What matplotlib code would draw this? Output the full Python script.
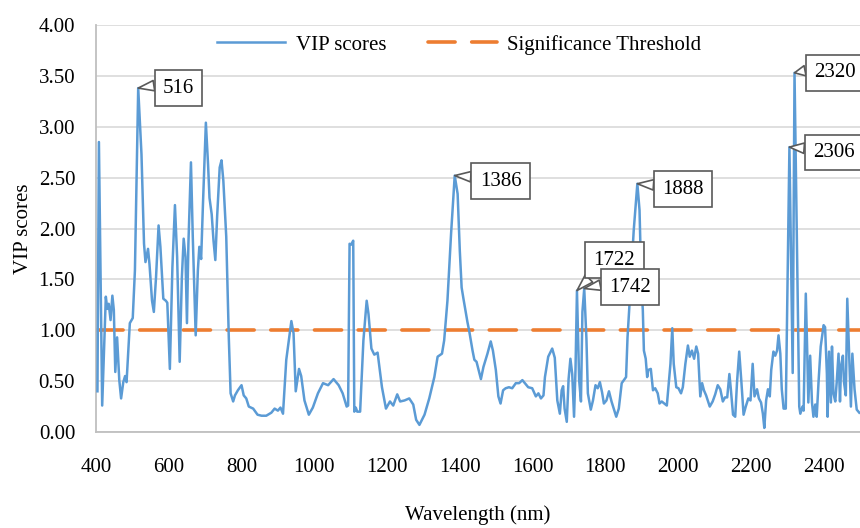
import matplotlib
matplotlib.use("Agg")
import matplotlib.pyplot as plt
from matplotlib.ticker import MultipleLocator, FormatStrFormatter

# wavelength (nm) and VIP scores
wavelength = [
    404, 408, 417, 427, 431, 435, 440, 445, 449, 453, 458, 464, 469, 475, 480, 484,
    493, 501, 507, 516, 525, 532, 536, 543, 547, 554, 559, 565, 572, 577, 585, 592,
    596, 603, 610, 617, 623, 630, 636, 641, 646, 650, 654, 661, 666, 674, 680, 684,
    689, 694, 702, 708, 712, 718, 723, 728, 733, 740, 745, 750, 758, 765, 770, 777,
    782, 790, 800, 806, 813, 820, 832, 844, 855, 868, 882, 891, 900, 907, 914, 923,
    937, 943, 949, 958, 964, 973, 985, 996, 1010, 1024, 1038, 1053, 1067, 1078, 1089, 1093,
    1097, 1101, 1107, 1110, 1114, 1118, 1126, 1135, 1144, 1149, 1157, 1165, 1174, 1186, 1197, 1208,
    1217, 1228, 1236, 1248, 1261, 1272, 1280, 1289, 1303, 1316, 1330, 1339, 1351, 1357, 1366, 1376,
    1386, 1394, 1400, 1405, 1410, 1421, 1426, 1435, 1440, 1446, 1453, 1458, 1465, 1476, 1485, 1491,
    1499, 1506, 1512, 1519, 1526, 1535, 1544, 1554, 1563, 1572, 1579, 1588, 1599, 1609, 1616, 1623,
    1630, 1634, 1643, 1654, 1661, 1668, 1675, 1680, 1684, 1688, 1694, 1699, 1704, 1709, 1714, 1718,
    1722, 1728, 1733, 1737, 1742, 1748, 1752, 1760, 1766, 1773, 1779, 1785, 1791, 1796, 1803, 1810,
    1817, 1823, 1830, 1837, 1845, 1851, 1857, 1861, 1867, 1878, 1888, 1894, 1899, 1903, 1906, 1911,
    1915, 1918, 1925, 1931, 1937, 1944, 1949, 1955, 1962, 1969, 1979, 1984, 1988, 1995, 2001, 2008,
    2013, 2020, 2027, 2032, 2038, 2044, 2050, 2055, 2061, 2066, 2071, 2077, 2087, 2095, 2102, 2109,
    2116, 2123, 2129, 2135, 2141, 2145, 2151, 2157, 2162, 2168, 2174, 2180, 2186, 2193, 2199, 2205,
    2210, 2217, 2222, 2228, 2233, 2237, 2242, 2247, 2252, 2256, 2262, 2267, 2272, 2276, 2281, 2285,
    2290, 2296, 2306, 2315, 2320, 2326, 2333, 2336, 2342, 2345, 2351, 2355, 2358, 2363, 2368, 2372,
    2377, 2381, 2386, 2392, 2400, 2404, 2409, 2411, 2415, 2420, 2423, 2427, 2432, 2436, 2441, 2445,
    2448, 2453, 2456, 2461, 2465, 2470, 2475, 2479, 2485, 2491, 2498,
]
vip = [
    0.40, 2.85, 0.26, 1.33, 1.21, 1.26, 1.10, 1.34, 1.20, 0.59, 0.93, 0.51, 0.33, 0.49, 0.55, 0.49,
    1.07, 1.12, 1.59, 3.38, 2.73, 1.85, 1.67, 1.80, 1.65, 1.29, 1.18, 1.52, 2.03, 1.82, 1.31, 1.29,
    1.27, 0.62, 1.62, 2.23, 1.72, 0.69, 1.52, 1.90, 1.72, 1.07, 1.85, 2.65, 1.92, 0.95, 1.59, 1.82,
    1.70, 2.24, 3.04, 2.63, 2.30, 2.14, 1.88, 1.69, 2.12, 2.60, 2.67, 2.47, 1.92, 0.93, 0.38, 0.30,
    0.36, 0.41, 0.46, 0.36, 0.33, 0.25, 0.23, 0.17, 0.16, 0.16, 0.19, 0.23, 0.21, 0.24, 0.18, 0.71,
    1.09, 0.97, 0.40, 0.62, 0.55, 0.31, 0.17, 0.24, 0.38, 0.48, 0.46, 0.52, 0.46, 0.38, 0.25, 0.26,
    1.85, 1.84, 1.88, 0.20, 0.24, 0.20, 0.20, 0.90, 1.29, 1.16, 0.82, 0.76, 0.78, 0.44, 0.23, 0.30,
    0.26, 0.37, 0.30, 0.31, 0.33, 0.27, 0.12, 0.07, 0.17, 0.33, 0.54, 0.74, 0.77, 0.90, 1.29, 1.95,
    2.52, 2.34, 1.78, 1.42, 1.31, 1.08, 0.99, 0.80, 0.71, 0.69, 0.59, 0.52, 0.64, 0.77, 0.89, 0.80,
    0.61, 0.35, 0.28, 0.41, 0.43, 0.44, 0.43, 0.48, 0.48, 0.51, 0.48, 0.44, 0.43, 0.35, 0.38, 0.33,
    0.36, 0.54, 0.74, 0.82, 0.73, 0.31, 0.18, 0.41, 0.45, 0.23, 0.10, 0.52, 0.72, 0.57, 0.15, 0.61,
    1.39, 0.51, 0.30, 1.18, 1.41, 0.92, 0.38, 0.22, 0.31, 0.46, 0.43, 0.49, 0.39, 0.28, 0.31, 0.40,
    0.30, 0.23, 0.15, 0.23, 0.48, 0.51, 0.54, 0.93, 1.29, 1.98, 2.44, 2.18, 1.46, 1.20, 0.80, 0.72,
    0.54, 0.61, 0.62, 0.41, 0.43, 0.38, 0.28, 0.30, 0.28, 0.26, 0.67, 1.02, 0.67, 0.44, 0.43, 0.38,
    0.44, 0.67, 0.85, 0.74, 0.80, 0.72, 0.84, 0.77, 0.35, 0.48, 0.41, 0.36, 0.25, 0.30, 0.37, 0.46,
    0.42, 0.30, 0.34, 0.34, 0.57, 0.42, 0.17, 0.15, 0.49, 0.79, 0.49, 0.17, 0.25, 0.33, 0.31, 0.67,
    0.35, 0.42, 0.33, 0.29, 0.18, 0.04, 0.31, 0.42, 0.35, 0.61, 0.79, 0.75, 0.80, 0.95, 0.77, 0.42,
    0.23, 0.23, 2.80, 0.58, 3.53, 1.99, 0.25, 0.18, 0.25, 0.21, 1.36, 0.78, 0.29, 0.75, 0.29, 0.15,
    0.27, 0.15, 0.49, 0.84, 1.05, 1.03, 0.57, 0.15, 0.79, 0.29, 0.84, 0.38, 0.30, 0.49, 0.77, 0.30,
    0.65, 0.75, 0.49, 0.36, 1.31, 0.78, 0.25, 0.77, 0.42, 0.22, 0.19,
]
threshold_x = [400, 2500]
threshold_y = [1.0, 1.0]

# labelled peaks: wavelength, vip, label box offset (points)
peak_nm = [516, 1386, 1722, 1742, 1888, 2306, 2320]
peak_vip = [3.38, 2.52, 1.39, 1.41, 2.44, 2.80, 3.53]
peak_offsets = [(29, 0), (33, -4), (27, 22), (33, 1), (33, -4), (32, -4), (29, 0)]
peak_relpos = [(0, 0.7), (0, 0.7), (0.1, 0), (0, 0.7), (0, 0.7), (0, 0.7), (0, 0.7)]

FONT = "Liberation Serif"
FS = 15
plt.rcParams["font.family"] = FONT

fig = plt.figure(figsize=(8.6, 5.28), dpi=100)
ax = fig.add_axes([96 / 860, 96 / 528, 764 / 860, 407 / 528])

ax.plot(wavelength, vip, color="#5B9BD5", linewidth=1.8, label="VIP scores", zorder=3)
ax.plot(threshold_x, threshold_y, color="#ED7D31", linewidth=2.6, dashes=(7.5, 4.6),
        dash_capstyle="round", label="Significance Threshold", zorder=2)

ax.set_xlim(400, 2500)
ax.set_ylim(0, 4)
ax.xaxis.set_major_locator(MultipleLocator(200))
ax.yaxis.set_major_locator(MultipleLocator(0.5))
ax.yaxis.set_major_formatter(FormatStrFormatter("%.2f"))
ax.grid(axis="y", color="#D9D9D9", linewidth=1.2)
ax.set_axisbelow(True)
ax.tick_params(length=0, labelsize=FS, colors="#000000")
ax.tick_params(axis="y", pad=15)
ax.tick_params(axis="x", pad=19)
for side in ["top", "right"]:
    ax.spines[side].set_visible(False)
for side in ["left", "bottom"]:
    ax.spines[side].set_color("#BFBFBF")
    ax.spines[side].set_linewidth(1.3)

ax.set_xlabel("Wavelength (nm)", fontsize=FS, labelpad=20)
ax.set_ylabel("VIP scores", fontsize=FS, labelpad=4)

for nm, v, off, rp in zip(peak_nm, peak_vip, peak_offsets, peak_relpos):
    ax.annotate(str(nm), xy=(nm, v), xytext=off, textcoords="offset points",
                ha="center", va="center", fontsize=FS, annotation_clip=False,
                bbox=dict(boxstyle="square,pad=0.4", fc="white", ec="#595959", lw=1.2),
                arrowprops=dict(arrowstyle="wedge,tail_width=0.5", fc="white",
                                ec="#595959", lw=1.2, relpos=rp,
                                shrinkA=0, shrinkB=0),
                zorder=5)

fig.legend(loc="upper center", bbox_to_anchor=(459 / 860, 1 - 16 / 528), ncol=2,
           frameon=False, fontsize=FS, handlelength=3.3, columnspacing=2.0,
           handletextpad=0.5)

fig.savefig("out.png", dpi=100)
